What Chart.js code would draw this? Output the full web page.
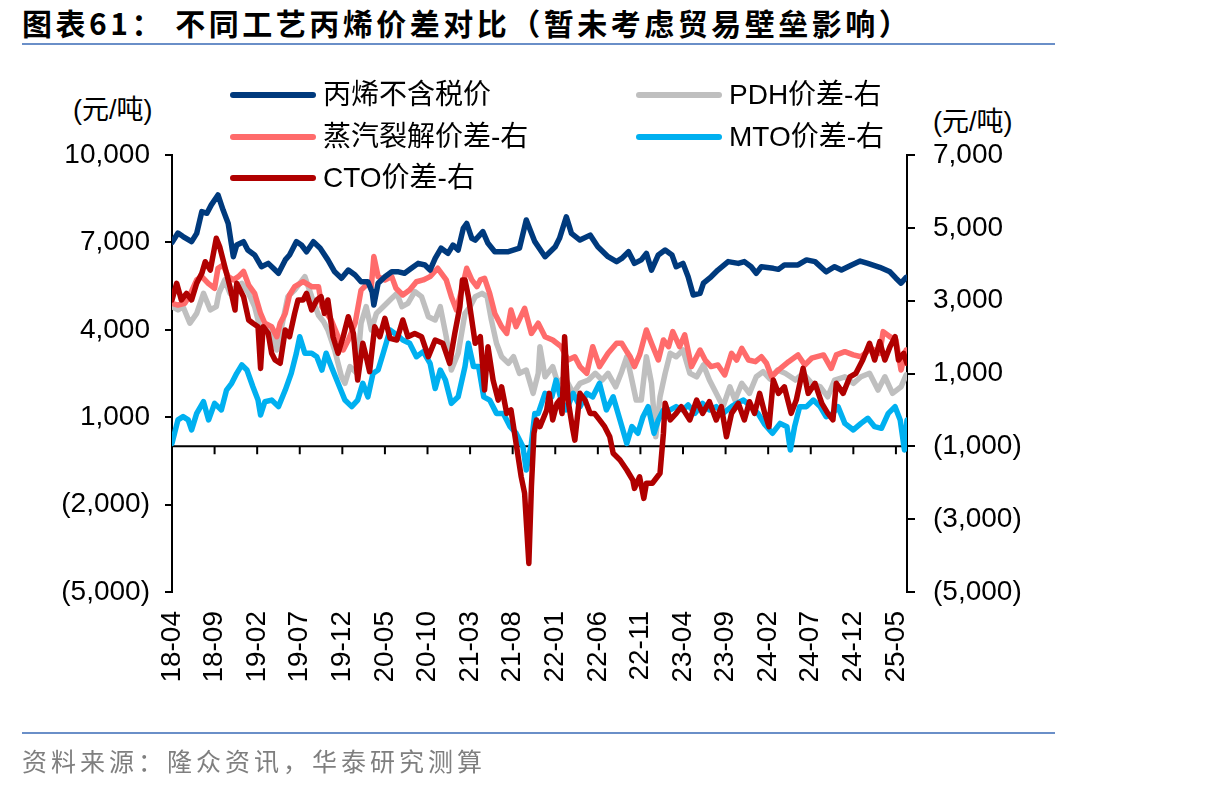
<!DOCTYPE html>
<html>
<head>
<meta charset="utf-8">
<script src="https://cdn.jsdelivr.net/npm/chart.js@4.4.1/dist/chart.umd.min.js"></script>
<style>
  body { margin: 0; background: #fff; width: 1206px; height: 787px; position: relative; overflow: hidden; }
  #chart { position: absolute; left: 0; top: 0; }
  .title { position: absolute; left: 22px; top: 0; line-height: 44px; font: bold 30px "Noto Sans CJK SC"; letter-spacing: 3.5px; white-space: pre; color: #000; }
  .rule { position: absolute; left: 22px; width: 1033px; height: 2px; background: #6a8fc8; }
  .source { position: absolute; left: 22px; top: 742px; line-height: 30px; font: 25px "Noto Sans CJK SC"; letter-spacing: 4px; color: #7f7f7f; white-space: pre; }
  .unit { position: absolute; line-height: 30px; font: 27px "Liberation Sans", "Noto Sans CJK SC"; color: #000; white-space: pre; }
</style>
</head>
<body>
<div class="title">图表61： 不同工艺丙烯价差对比（暂未考虑贸易壁垒影响）</div>
<div class="rule" style="top:43px"></div>
<div class="unit" style="left:73px; top:88px">(元/吨)</div>
<div class="unit" style="left:933px; top:100px">(元/吨)</div>
<canvas id="chart" width="1206" height="787"></canvas>
<div class="rule" style="top:732px"></div>
<div class="source">资料来源：隆众资讯，华泰研究测算</div>

<script>
// 月份序号：0 = 2018-04
const xTickLabels = ['18-04', '18-09', '19-02', '19-07', '19-12', '20-05', '20-10', '21-03', '21-08',
  '22-01', '22-06', '22-11', '23-04', '23-09', '24-02', '24-07', '24-12', '25-05'];

// 丙烯不含税价（左轴）
const propyleneX = [0, 0.7, 1.3, 2.3, 2.9, 3.5, 4.1, 4.6, 5.4, 6.0, 6.6, 7.2, 7.6, 8.4, 8.9, 9.7, 10.5, 11.3, 11.9, 12.5,
  13.3, 13.8, 14.6, 15.2, 15.8, 16.6, 17.4, 18.3, 19.1, 19.9, 20.7, 21.5, 22.2, 23.0, 23.5, 23.7, 24.2, 25.0, 25.8, 26.6,
  27.3, 28.1, 28.9, 29.7, 30.3, 30.9, 31.6, 32.4, 33.0, 33.6, 34.2, 34.6, 35.2, 35.6, 36.5, 37.1, 37.9, 39.5, 40.8, 41.6,
  42.6, 43.8, 45.0, 45.5, 46.3, 46.9, 47.9, 49.1, 50.0, 51.2, 52.2, 52.8, 53.6, 54.3, 55.1, 55.7, 56.3, 57.1, 57.9, 58.7,
  59.2, 60.0, 60.6, 61.2, 62.0, 62.4, 63.3, 64.1, 65.3, 66.5, 67.2, 68.0, 68.6, 69.2, 70.6, 71.2, 71.9, 73.5, 74.5, 75.5,
  76.8, 77.8, 78.6, 79.8, 80.8, 81.7, 83.1, 84.3, 85.0, 85.6, 86.2];
const propyleneY = [7000, 7320, 7200, 7025, 7310, 8055, 8000, 8280, 8630, 8110, 7650, 6510, 6910, 7025, 6740, 6570, 6165, 6280, 6110, 5940,
  6400, 6570, 7025, 6910, 6680, 7025, 6800, 6400, 5990, 5770, 6050, 5880, 5650, 5650, 5300, 4850, 5600, 5820, 5990, 5990,
  5940, 6110, 6280, 6225, 6050, 6450, 6800, 6625, 6910, 6740, 7480, 7650, 7140, 7080, 7370, 6970, 6680, 6680, 6800, 7770,
  7025, 6510, 6850, 7140, 7880, 7310, 7080, 7250, 6850, 6510, 6340, 6450, 6680, 6280, 6400, 6625, 6050, 6570, 6740, 6570,
  6165, 6280, 5820, 5195, 5250, 5600, 5820, 6050, 6340, 6280, 6340, 6165, 5940, 6165, 6110, 6075, 6225, 6225, 6400, 6340,
  5990, 6165, 6050, 6225, 6360, 6280, 6145, 5990, 5770, 5600, 5800];

// PDH价差（右轴）
const pdhX = [0, 0.7, 1.3, 2.1, 2.9, 3.7, 4.5, 5.2, 5.5, 6.2, 6.8, 7.4, 8.2, 9.0, 9.7, 10.3, 10.9, 11.7, 12.3, 12.8,
  13.6, 14.4, 15.6, 16.4, 17.2, 17.8, 18.3, 19.1, 19.9, 20.3, 20.9, 21.7, 22.2, 22.8, 23.4, 24.0, 24.8, 25.6, 26.4, 27.0,
  27.7, 28.5, 29.3, 30.1, 30.9, 31.5, 32.2, 32.8, 33.6, 34.4, 35.0, 35.6, 36.4, 37.0, 37.5, 38.1, 38.7, 39.5, 40.1, 40.8,
  41.6, 42.4, 43.0, 43.2, 43.8, 44.7, 45.3, 46.1, 47.1, 47.9, 48.9, 49.7, 50.5, 51.2, 52.1, 52.8, 53.4, 54.0, 54.5, 55.1,
  55.7, 56.3, 56.8, 57.3, 57.9, 58.5, 59.2, 60.0, 60.8, 61.6, 62.4, 63.1, 63.9, 64.7, 65.5, 66.1, 66.9, 67.8, 68.6, 69.4,
  70.2, 71.1, 72.0, 73.2, 74.1, 75.1, 76.1, 77.0, 77.8, 79.0, 80.0, 80.9, 81.9, 82.9, 83.7, 84.6, 85.6, 86.2];
const pdhY = [2835, 2745, 2835, 2380, 2650, 3200, 2745, 2835, 3200, 3570, 3200, 3340, 3477, 3200, 2835, 2285, 2240, 2100, 1645, 2195,
  3110, 3290, 3660, 3110, 2600, 2420, 2195, 1645, 910, 730, 1190, 1005, 2380, 2835, 2195, 2650, 2835, 3020, 3200, 2835,
  2928, 3250, 3110, 2560, 2470, 2835, 2010, 1095, 1555, 2650, 2835, 3110, 3200, 3110, 2470, 1830, 1460, 1280, 1460, 1005,
  1095, 455, 1005, 1736, 910, 1190, 730, 910, 455, 730, 820, 1005, 820, 1005, 635, 1050, 1460, 820, 270, 270,
  1460, 730, -735, 360, 1005, 1555, 1460, 1645, 1005, 910, 1235, 820, 455, 90, 635, 270, 730, 455, 910, 1050,
  850, 1095, 1005, 820, 1005, 730, 635, 360, 820, 910, 730, 910, 1005, 545, 910, 455, 635, 960];

// 蒸汽裂解价差（右轴）
const steamX = [0, 0.7, 1.5, 2.1, 2.9, 3.5, 4.25, 5.0, 5.4, 6.0, 6.6, 7.2, 7.8, 8.4, 9.0, 9.7, 10.4, 10.9, 11.7, 12.3,
  12.7, 13.3, 13.8, 14.4, 15.4, 16.4, 17.2, 17.6, 18.7, 19.5, 20.1, 20.7, 21.5, 22.2, 23.0, 23.4, 23.7, 24.2, 25.0, 25.8,
  26.3, 27.1, 27.9, 28.7, 29.5, 30.3, 31.2, 32.2, 32.8, 33.4, 34.0, 34.6, 35.2, 35.8, 36.2, 36.7, 37.3, 37.9, 38.7, 39.3,
  39.8, 40.4, 41.4, 42.2, 43.0, 43.8, 44.7, 45.7, 46.5, 47.3, 47.9, 48.7, 49.4, 50.2, 51.2, 52.2, 52.8, 53.4, 53.8, 54.3,
  54.9, 55.7, 56.3, 57.1, 57.7, 58.3, 58.8, 59.6, 60.2, 61.0, 62.0, 62.6, 63.3, 64.1, 64.9, 65.7, 66.3, 66.9, 67.7, 68.5,
  69.2, 69.8, 70.4, 71.2, 72.4, 73.5, 74.3, 75.1, 76.5, 77.4, 78.0, 79.0, 80.0, 80.9, 82.1, 83.1, 83.5, 84.3, 85.0, 85.6,
  86.2];
const steamY = [2928, 2880, 2928, 3156, 3570, 3660, 3477, 3340, 3890, 3980, 3660, 3570, 3660, 3800, 3430, 3200, 2650, 2380, 2285, 2010,
  2380, 2650, 3156, 3385, 3520, 3385, 3385, 2835, 2470, 2010, 1645, 1920, 2380, 3290, 3477, 3385, 4210, 3660, 3570, 3660,
  3340, 3156, 3290, 3520, 3570, 3660, 3890, 3570, 3110, 2745, 3290, 3890, 3570, 3385, 3570, 3615, 3200, 2650, 2285, 2100,
  2745, 2285, 2790, 2100, 2380, 2010, 1920, 1736, 1370, 1460, 1190, 1005, 1736, 1190, 1555, 1830, 1830, 1600, 1460, 1190,
  1510, 2195, 1830, 1370, 1920, 1736, 2150, 1736, 2060, 1190, 1645, 1370, 1190, 1235, 960, 1555, 1370, 1690, 1370, 1325,
  1460, 1280, 910, 1095, 1325, 1510, 1235, 1420, 1510, 1140, 1510, 1600, 1510, 1460, 1690, 1555, 2150, 2010, 1920, 1095,
  1645];

// MTO价差（右轴）
const mtoX = [0, 0.7, 1.3, 1.9, 2.3, 2.9, 3.7, 4.3, 5.0, 5.8, 6.4, 7.0, 7.6, 8.2, 8.8, 9.5, 10.1, 10.4, 10.9, 11.7,
  12.5, 13.3, 14.0, 14.6, 15.0, 15.6, 16.4, 17.0, 17.6, 18.1, 18.7, 19.5, 20.3, 21.1, 21.8, 22.4, 23.0, 23.6, 24.2, 24.8,
  25.6, 26.4, 27.1, 27.9, 28.7, 29.5, 30.3, 30.9, 31.5, 32.1, 32.8, 33.6, 34.4, 34.8, 35.4, 36.0, 36.6, 37.3, 38.1, 38.9,
  39.7, 40.4, 41.2, 41.6, 42.2, 42.6, 43.0, 43.8, 44.6, 45.1, 45.7, 46.3, 47.1, 47.9, 48.7, 49.4, 50.2, 51.0, 51.8, 52.6,
  53.4, 54.0, 54.7, 55.3, 55.9, 56.6, 57.1, 57.7, 58.5, 59.2, 60.0, 60.6, 61.4, 62.3, 63.1, 63.9, 64.7, 65.7, 66.3, 67.1,
  68.0, 68.8, 69.6, 70.5, 71.4, 72.2, 72.6, 73.1, 73.7, 74.5, 75.3, 76.1, 76.8, 77.6, 78.2, 79.0, 80.0, 80.9, 81.7, 82.5,
  83.3, 84.1, 84.9, 85.5, 86.0, 86.3];
const mtoY = [-920, -275, -185, -275, -550, -95, 225, -275, 180, 0, 545, 730, 1005, 1235, 1095, 635, 270, -140, 225, 270,
  90, 545, 1005, 1555, 2010, 1555, 1555, 1460, 1095, 1555, 1190, 730, 270, 90, 270, 730, 360, 1005, 1095, 1555,
  2195, 2060, 1920, 1830, 1460, 1600, 1280, 590, 1095, 820, 180, 360, 1190, 1830, 1190, 1190, 360, 270, -95, -95,
  -460, -640, -1010, -1650, -920, -95, -95, 455, 360, 820, 270, 0, 455, 90, 455, 360, 730, 0, 360, -275,
  -920, -460, -640, -185, 90, -640, -275, 0, 0, 90, 0, 135, -95, 180, 0, 90, -95, 90, 180, 270,
  90, -95, -400, -640, -370, -460, -1100, -460, 90, 90, 270, 90, -185, -95, 90, -370, -550, -370, -230, -460,
  -505, -95, 90, -275, -1100, -275];

// CTO价差（右轴）
const ctoX = [0, 0.55, 1.1, 1.7, 2.3, 2.9, 3.5, 3.9, 4.5, 5.2, 5.6, 6.2, 6.8, 7.4, 7.6, 8.4, 9.0, 9.5, 10.1, 10.4,
  10.7, 11.3, 11.7, 12.1, 12.7, 13.3, 13.8, 14.4, 14.8, 15.4, 15.8, 16.4, 17.0, 17.5, 17.9, 18.3, 18.9, 19.5, 20.1, 20.7,
  21.3, 21.8, 22.4, 22.8, 23.2, 23.8, 24.4, 25.0, 25.6, 26.4, 27.1, 27.7, 28.5, 29.3, 30.1, 30.9, 31.8, 32.6, 33.2, 33.8,
  34.1, 34.4, 34.8, 35.2, 35.6, 36.2, 36.7, 37.1, 37.7, 38.3, 38.7, 39.3, 39.8, 40.4, 41.0, 41.4, 41.9, 42.2, 42.5, 42.8,
  43.2, 44.0, 44.3, 44.7, 45.2, 45.5, 45.8, 46.1, 46.5, 47.0, 47.3, 47.9, 48.5, 49.1, 49.6, 50.2, 50.8, 51.4, 51.8, 52.6,
  53.4, 54.1, 54.3, 54.9, 55.4, 55.7, 56.4, 57.3, 57.7, 57.9, 58.5, 59.2, 59.8, 60.8, 61.6, 62.3, 63.1, 63.9, 64.5, 65.1,
  65.7, 66.5, 67.2, 67.8, 68.4, 69.0, 69.6, 70.1, 70.6, 71.2, 71.9, 72.7, 73.3, 74.1, 74.7, 75.5, 76.3, 77.0, 77.6, 78.0,
  78.8, 79.6, 80.3, 81.1, 81.9, 82.5, 83.1, 83.7, 84.3, 84.9, 85.3, 85.9, 86.3];
const ctoY = [3020, 3477, 3020, 3200, 3020, 3477, 3750, 4070, 3840, 4715, 4480, 3935, 3385, 2745, 3477, 3110, 2470, 2380, 2285, 1140,
  2285, 2100, 1555, 1370, 1280, 2195, 2010, 2650, 3020, 3020, 3200, 2745, 3020, 3110, 2650, 3020, 2010, 1555, 2010, 2560,
  2100, 820, 1830, 1460, 1050, 2285, 2010, 2515, 1965, 1920, 2470, 2010, 2100, 2010, 1460, 1920, 1830, 1280, 2100, 2835,
  3570, 3570, 3110, 2470, 1830, 2010, 545, 1736, 820, 270, 635, -95, 0, -915, -1835, -2290, -4215, -2110, -640, -275,
  -460, 0, 455, -275, 180, 270, -100, 2010, 270, -460, -830, 455, 270, -95, -95, -275, -460, -735, -1190, -1375,
  -1650, -1925, -2155, -1835, -2430, -2015, -2015, -1740, -640, 180, -275, -95, 90, -275, 270, -95, 225, -275, 90, -735,
  -95, 180, -275, 225, -95, 455, -95, -460, 820, 455, 635, -95, 270, 1140, 455, 730, 180, -95, -275, 730,
  455, 910, 1005, 1370, 1830, 1370, 1875, 1370, 1736, 2010, 1370, 1555, 1280];

const fmt = v => v < 0 ? '(' + Math.abs(v).toLocaleString('en-US') + ')' : v.toLocaleString('en-US');
const pts = (xs, ys) => xs.map((x, i) => ({ x: x, y: ys[i] }));

function line(label, xs, ys, color, axis) {
  return {
    label: label,
    data: pts(xs, ys),
    borderColor: color,
    backgroundColor: color,
    borderWidth: 5.5,
    pointRadius: 0,
    tension: 0,
    borderJoinStyle: 'round',
    borderCapStyle: 'round',
    yAxisID: axis
  };
}

// 第一条在最上层
const datasets = [
  line('CTO价差-右', ctoX, ctoY, '#b00000', 'y2'),
  line('丙烯不含税价', propyleneX, propyleneY, '#003a7d', 'y'),
  line('蒸汽裂解价差-右', steamX, steamY, '#ff6b6b', 'y2'),
  line('MTO价差-右', mtoX, mtoY, '#00b0f0', 'y2'),
  line('PDH价差-右', pdhX, pdhY, '#bfbfbf', 'y2')
];

// 横轴画在左轴0的位置，刻度朝下
const zeroAxis = {
  id: 'zeroAxis',
  beforeDatasetsDraw(chart) {
    const { ctx, scales: { x, y } } = chart;
    const y0 = y.getPixelForValue(0);
    ctx.save();
    ctx.strokeStyle = '#000';
    ctx.lineWidth = 2;
    ctx.beginPath();
    ctx.moveTo(x.left, y0);
    ctx.lineTo(x.right, y0);
    x.ticks.forEach(t => {
      const px = x.getPixelForValue(t.value);
      ctx.moveTo(px, y0);
      ctx.lineTo(px, y0 + 8);
    });
    ctx.stroke();
    ctx.restore();
  }
};

// 两列图例
const legendOrder = ['丙烯不含税价', 'PDH价差-右', '蒸汽裂解价差-右', 'MTO价差-右', 'CTO价差-右'];
const legendSlots = [[230, 95], [636, 95], [230, 137], [636, 137], [230, 178]];
const boxLegend = {
  id: 'boxLegend',
  afterDraw(chart) {
    const ctx = chart.ctx;
    ctx.save();
    ctx.font = '28px "Liberation Sans", "Noto Sans CJK SC"';
    ctx.textBaseline = 'middle';
    ctx.fillStyle = '#000';
    legendOrder.forEach((name, i) => {
      const ds = chart.data.datasets.find(d => d.label === name);
      const [lx, ly] = legendSlots[i];
      ctx.strokeStyle = ds.borderColor;
      ctx.lineWidth = 6;
      ctx.lineCap = 'round';
      ctx.beginPath();
      ctx.moveTo(lx + 3, ly);
      ctx.lineTo(lx + 83, ly);
      ctx.stroke();
      ctx.fillText(name, lx + 93, ly + 1);
    });
    ctx.restore();
  }
};

const tickFont = { family: '"Liberation Sans", Arial', size: 28 };

new Chart(document.getElementById('chart'), {
  type: 'line',
  data: { datasets: datasets },
  plugins: [zeroAxis, boxLegend],
  options: {
    responsive: false,
    animation: false,
    devicePixelRatio: 1,
    layout: { padding: { top: 155, left: 0, right: 0, bottom: 0 } },
    plugins: { legend: { display: false }, tooltip: { enabled: false } },
    scales: {
      x: {
        type: 'linear',
        position: 'bottom',
        min: 0,
        max: 86.3,
        grid: { display: false, drawTicks: false },
        border: { display: false },
        ticks: {
          stepSize: 5,
          includeBounds: false,
          autoSkip: false,
          minRotation: 90,
          maxRotation: 90,
          padding: 19,
          color: '#000',
          font: tickFont,
          callback: v => xTickLabels[Math.round(v / 5)]
        },
        afterFit: s => { s.height = 195; }
      },
      y: {
        position: 'left',
        min: -5000,
        max: 10000,
        grid: { drawOnChartArea: false, tickLength: 7, color: '#000', lineWidth: 2 },
        border: { color: '#000', width: 2 },
        ticks: { stepSize: 3000, padding: 15, color: '#000', font: tickFont, callback: fmt },
        afterFit: s => { s.width = 172; }
      },
      y2: {
        position: 'right',
        min: -5000,
        max: 7000,
        grid: { drawOnChartArea: false, tickLength: 8, color: '#000', lineWidth: 2 },
        border: { color: '#000', width: 2 },
        ticks: { stepSize: 2000, padding: 18, color: '#000', font: tickFont, callback: fmt },
        afterFit: s => { s.width = 299; }
      }
    }
  }
});
</script>
</body>
</html>
